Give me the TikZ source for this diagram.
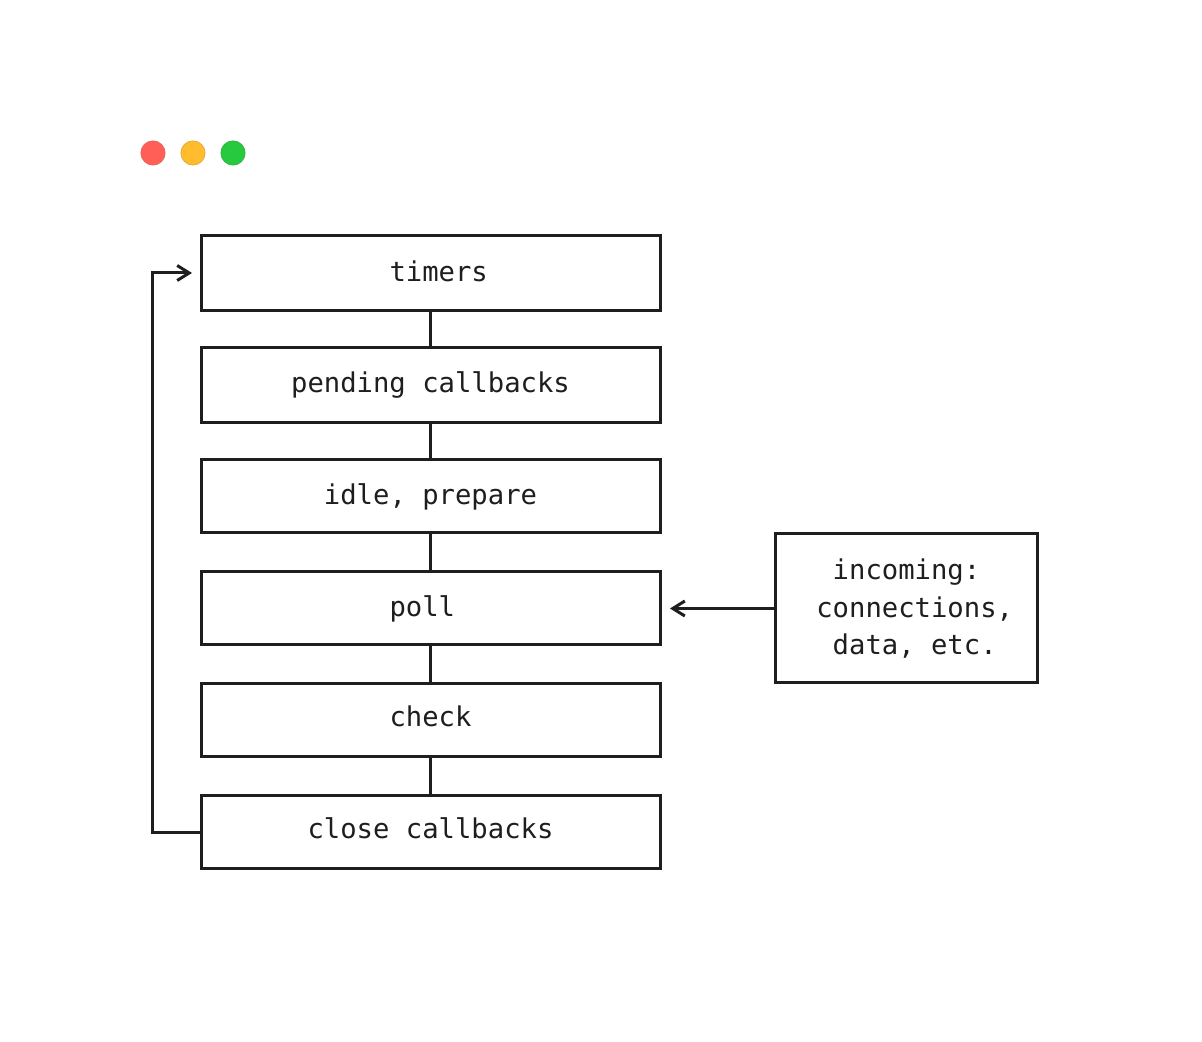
\documentclass[tikz,border=0pt]{standalone}
\usepackage{fontspec}
\setmonofont{DejaVu Sans Mono}
\usetikzlibrary{arrows.meta}
\definecolor{ink}{HTML}{1E1E1E}
\tikzset{
	box/.style={rectangle,draw=ink,line width=0.06cm,minimum width=9.18cm,text=ink,inner sep=0pt,text depth=0pt,font=\ttfamily\fontsize{15.5}{21.3}\selectfont},
	link/.style={draw=ink,line width=0.06cm},
	tip/.style={-{Straight Barb[length=0.24cm,width=0.3cm,line width=0.06cm]}},
	dot/.style={circle,draw,line width=0.02cm,minimum size=0.48cm,inner sep=0pt}
}
\begin{document}
\begin{tikzpicture}
				\useasboundingbox (0,0) rectangle (24.04,20.84);
				\node[dot, fill={rgb,255:red,255;green,95;blue,86}, draw={rgb,255:red,238;green,100;blue,90}] (R) at (3.06,17.78) {};
				\node[dot, fill={rgb,255:red,255;green,189;blue,46}, draw={rgb,255:red,235;green,175;blue,60}] (Y) at (3.86,17.78) {};
				\node[dot, fill={rgb,255:red,39;green,201;blue,63}, draw={rgb,255:red,45;green,185;blue,70}] (N) at (4.66,17.78) {};
				\node[box, minimum height=1.5cm, text height=0.32cm] (A) at (8.61,15.37) {\ timers};
				\node[box, minimum height=1.5cm, text height=0.30cm] (B) at (8.61,13.13) {pending callbacks};
				\draw[link] (A) -- (B);
				\node[box, minimum height=1.46cm, text height=0.32cm] (C) at (8.61,10.91) {idle, prepare};
				\draw[link] (B) -- (C);
				\node[box, minimum height=1.46cm, text height=0.32cm] (D) at (8.61,8.67) {poll\ \mbox{}};
				\draw[link] (C) -- (D);
				\node[box, minimum height=1.46cm, text height=0.24cm] (E) at (8.61,6.43) {check};
				\draw[link] (D) -- (E);
				\node[box, minimum height=1.46cm, text height=0.24cm] (F) at (8.61,4.19) {close callbacks};
				\draw[link] (E) -- (F);
				\node[box, minimum width=5.24cm, minimum height=2.98cm, align=center, text height=1.84cm] (G) at (18.13,8.67) {incoming:\\\ connections,\\\ data, etc.};
				\coordinate (H) at (3.04,15.38);
				\coordinate (I) at (3.84,15.38);
				\coordinate (J) at (13.4,8.67);
				\draw[link,tip,line join=miter] (F.west) -| (H) -- (I);
				\draw[link,tip] (G) -- (J);
			\end{tikzpicture}
\end{document}
